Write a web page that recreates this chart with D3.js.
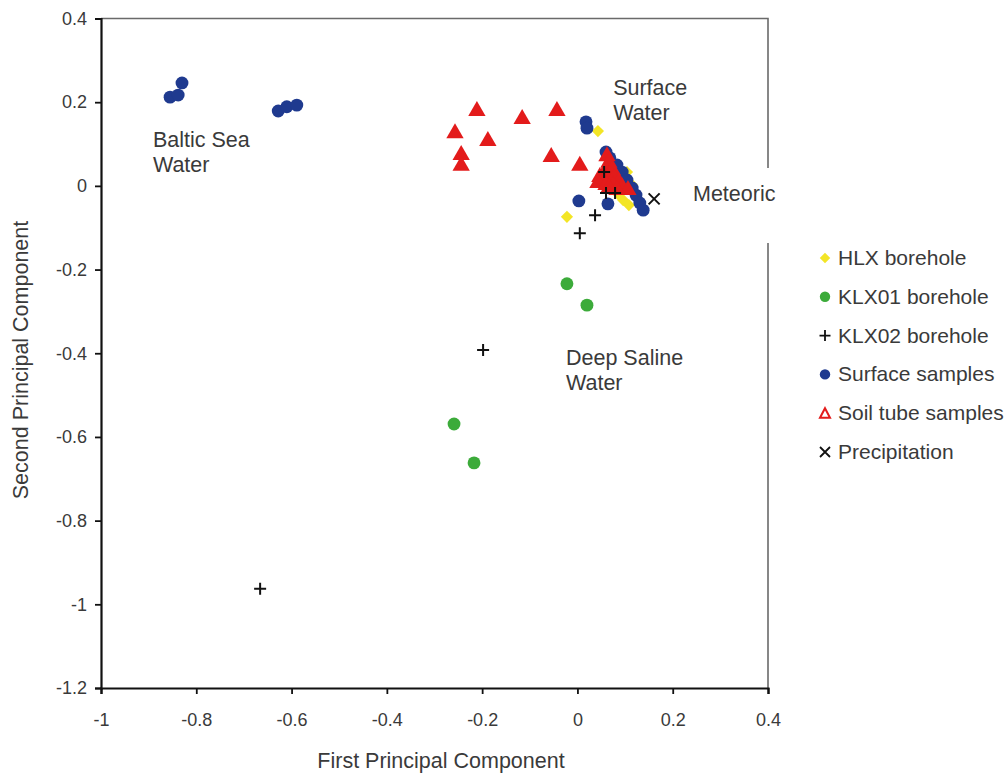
<!DOCTYPE html>
<html>
<head>
<meta charset="utf-8">
<script src="https://cdn.jsdelivr.net/npm/d3@7"></script>
<style>
  html, body { margin: 0; padding: 0; background: #fff; overflow: hidden; }
  svg { display: block; font-family: "Liberation Sans", Arial, sans-serif; }
</style>
</head>
<body>
<svg id="chart" width="1007" height="773"></svg>
<script>
// Principal component scores per sample group: [PC1, PC2]
const hlxBorehole = [
  [0.043, 0.131], [-0.022, -0.074], [0.104, 0.033], [0.096, -0.034],
  [0.108, -0.046], [0.085, -0.019], [0.115, 0.002]
];
const klx01Borehole = [
  [-0.022, -0.234], [0.020, -0.285], [-0.259, -0.569], [-0.217, -0.662]
];
const klx02Borehole = [
  [-0.198, -0.392], [-0.666, -0.963], [0.037, -0.070], [0.005, -0.113],
  [0.060, -0.017], [0.079, -0.017], [0.056, 0.033]
];
const surfaceSamples = [
  [-0.855, 0.212], [-0.838, 0.217], [-0.830, 0.246],
  [-0.628, 0.179], [-0.610, 0.189], [-0.589, 0.193],
  [0.018, 0.153], [0.020, 0.138], [0.060, 0.081], [0.068, 0.067],
  [0.083, 0.050], [0.094, 0.033], [0.104, 0.014], [0.115, -0.005],
  [0.123, -0.022], [0.131, -0.041], [0.138, -0.058], [0.003, -0.036],
  [0.064, -0.043]
];
const soilTubeSamples = [
  [-0.257, 0.126], [-0.211, 0.179], [-0.188, 0.107], [-0.244, 0.074],
  [-0.244, 0.048], [-0.116, 0.160], [-0.043, 0.179], [-0.055, 0.069],
  [0.005, 0.048],
  [0.062, 0.071], [0.066, 0.055], [0.060, 0.038], [0.073, 0.038],
  [0.047, 0.021], [0.062, 0.019], [0.077, 0.019], [0.087, 0.009],
  [0.043, 0.007], [0.060, 0.002], [0.075, 0.000], [0.094, -0.003],
  [0.106, -0.010], [0.083, -0.010], [0.066, -0.005]
];
const precipitation = [[0.161, -0.031]];

const xTicks = [-1, -0.8, -0.6, -0.4, -0.2, 0, 0.2, 0.4];
const yTicks = [0.4, 0.2, 0, -0.2, -0.4, -0.6, -0.8, -1, -1.2];

const legendNames = ["HLX borehole", "KLX01 borehole", "KLX02 borehole",
  "Surface samples", "Soil tube samples", "Precipitation"];

const regionLabels = [
  { lines: ["Baltic Sea", "Water"], at: [-0.891, 0.093] },
  { lines: ["Surface", "Water"], at: [0.075, 0.217] },
  { lines: ["Deep Saline", "Water"], at: [-0.024, -0.428] }
];

const svg = d3.select("#chart");
const plotLeft = 101, plotRight = 768, plotTop = 18.5, plotBottom = 688;

const x = d3.scaleLinear().domain([-1, 0.4]).range([plotLeft, plotRight]);
const y = d3.scaleLinear().domain([-1.2, 0.4]).range([plotBottom, plotTop]);

const textColor = "#3a3a3a";

// plot area frame (top and right edges)
svg.append("path")
  .attr("d", `M${plotLeft},${plotTop}H${plotRight}V${plotBottom}`)
  .attr("fill", "none").attr("stroke", "#6a6a6a").attr("stroke-width", 1.6);

// axes
const fmt = d => String(+d.toFixed(1));
const xAxis = svg.append("g").attr("transform", `translate(0,${plotBottom})`)
  .call(d3.axisBottom(x).tickValues(xTicks).tickSize(6).tickPadding(19).tickFormat(fmt));
const yAxis = svg.append("g").attr("transform", `translate(${plotLeft},0)`)
  .call(d3.axisLeft(y).tickValues(yTicks).tickSize(6).tickPadding(8).tickFormat(fmt));
[xAxis, yAxis].forEach(g => {
  g.select(".domain").attr("stroke", "#111").attr("stroke-width", 2.2);
  g.selectAll(".tick line").attr("stroke", "#111").attr("stroke-width", 1.8);
  g.selectAll(".tick text").attr("fill", textColor).attr("font-size", 18)
    .attr("font-family", "Liberation Sans, Arial, sans-serif");
});

// axis titles
svg.append("text").attr("x", 441).attr("y", 768)
  .attr("text-anchor", "middle").attr("font-size", 21.5).attr("fill", textColor)
  .text("First Principal Component");
svg.append("text").attr("transform", `translate(28,360) rotate(-90)`)
  .attr("text-anchor", "middle").attr("font-size", 21.5).attr("fill", textColor)
  .text("Second Principal Component");

// marker shapes
const symDiamond = d3.symbol().type(d3.symbolDiamond2).size(95)();
const symCircle = d3.symbol().type(d3.symbolCircle).size(130)();
const symTriangle = d3.symbol().type(d3.symbolTriangle).size(130)();
const symCross = "M-6,0H6M0,-6V6";
const symX = "M-5.5,-5.5L5.5,5.5M-5.5,5.5L5.5,-5.5";

const series = [
  { data: hlxBorehole, path: symDiamond, fill: "#f3e526", stroke: "none", sw: 0 },
  { data: klx01Borehole, path: symCircle, fill: "#3cab3a", stroke: "none", sw: 0 },
  { data: surfaceSamples, path: symCircle, fill: "#1f3a8f", stroke: "none", sw: 0 },
  { data: soilTubeSamples, path: symTriangle, fill: "#e31b1b", stroke: "none", sw: 0 },
  { data: klx02Borehole, path: symCross, fill: "none", stroke: "#111", sw: 2 },
  { data: precipitation, path: symX, fill: "none", stroke: "#111", sw: 2 }
];

series.forEach(s => {
  svg.append("g").selectAll("path").data(s.data).join("path")
    .attr("d", s.path)
    .attr("transform", d => `translate(${x(d[0])},${y(d[1])})`)
    .attr("fill", s.fill).attr("stroke", s.stroke).attr("stroke-width", s.sw);
});

// region annotations
regionLabels.forEach(r => {
  const t = svg.append("text").attr("font-size", 21.5).attr("fill", textColor)
    .attr("x", x(r.at[0])).attr("y", y(r.at[1]));
  r.lines.forEach((ln, i) => t.append("tspan").attr("x", x(r.at[0]))
    .attr("dy", i === 0 ? 0 : 25).text(ln));
});

// "Meteoric" label sits on an opaque box that covers the right frame edge
const metX = 693, metY = 201;
svg.append("rect").attr("x", metX - 6).attr("y", 168).attr("width", 96).attr("height", 75)
  .attr("fill", "#fff");
svg.append("text").attr("x", metX).attr("y", metY).attr("font-size", 21.5)
  .attr("fill", textColor).text("Meteoric");

// legend
const legendSymbols = [
  { path: d3.symbol().type(d3.symbolDiamond2).size(70)(), fill: "#f3e526", stroke: "none", sw: 0 },
  { path: d3.symbol().type(d3.symbolCircle).size(85)(), fill: "#3cab3a", stroke: "none", sw: 0 },
  { path: "M-5.5,0H5.5M0,-5.5V5.5", fill: "none", stroke: "#111", sw: 1.8 },
  { path: d3.symbol().type(d3.symbolCircle).size(85)(), fill: "#1f3a8f", stroke: "none", sw: 0 },
  { path: "M0,-5L5,4.5H-5Z", fill: "#fff", stroke: "#e31b1b", sw: 2 },
  { path: "M-5,-5L5,5M-5,5L5,-5", fill: "none", stroke: "#111", sw: 1.8 }
];
const legend = svg.append("g").attr("transform", "translate(825,258)");
legendNames.forEach((name, i) => {
  const row = legend.append("g").attr("transform", `translate(0,${i * 38.8})`);
  const s = legendSymbols[i];
  row.append("path").attr("d", s.path).attr("fill", s.fill)
    .attr("stroke", s.stroke).attr("stroke-width", s.sw);
  row.append("text").attr("x", 13).attr("y", 7).attr("font-size", 21)
    .attr("fill", textColor).text(name);
});
</script>
</body>
</html>
